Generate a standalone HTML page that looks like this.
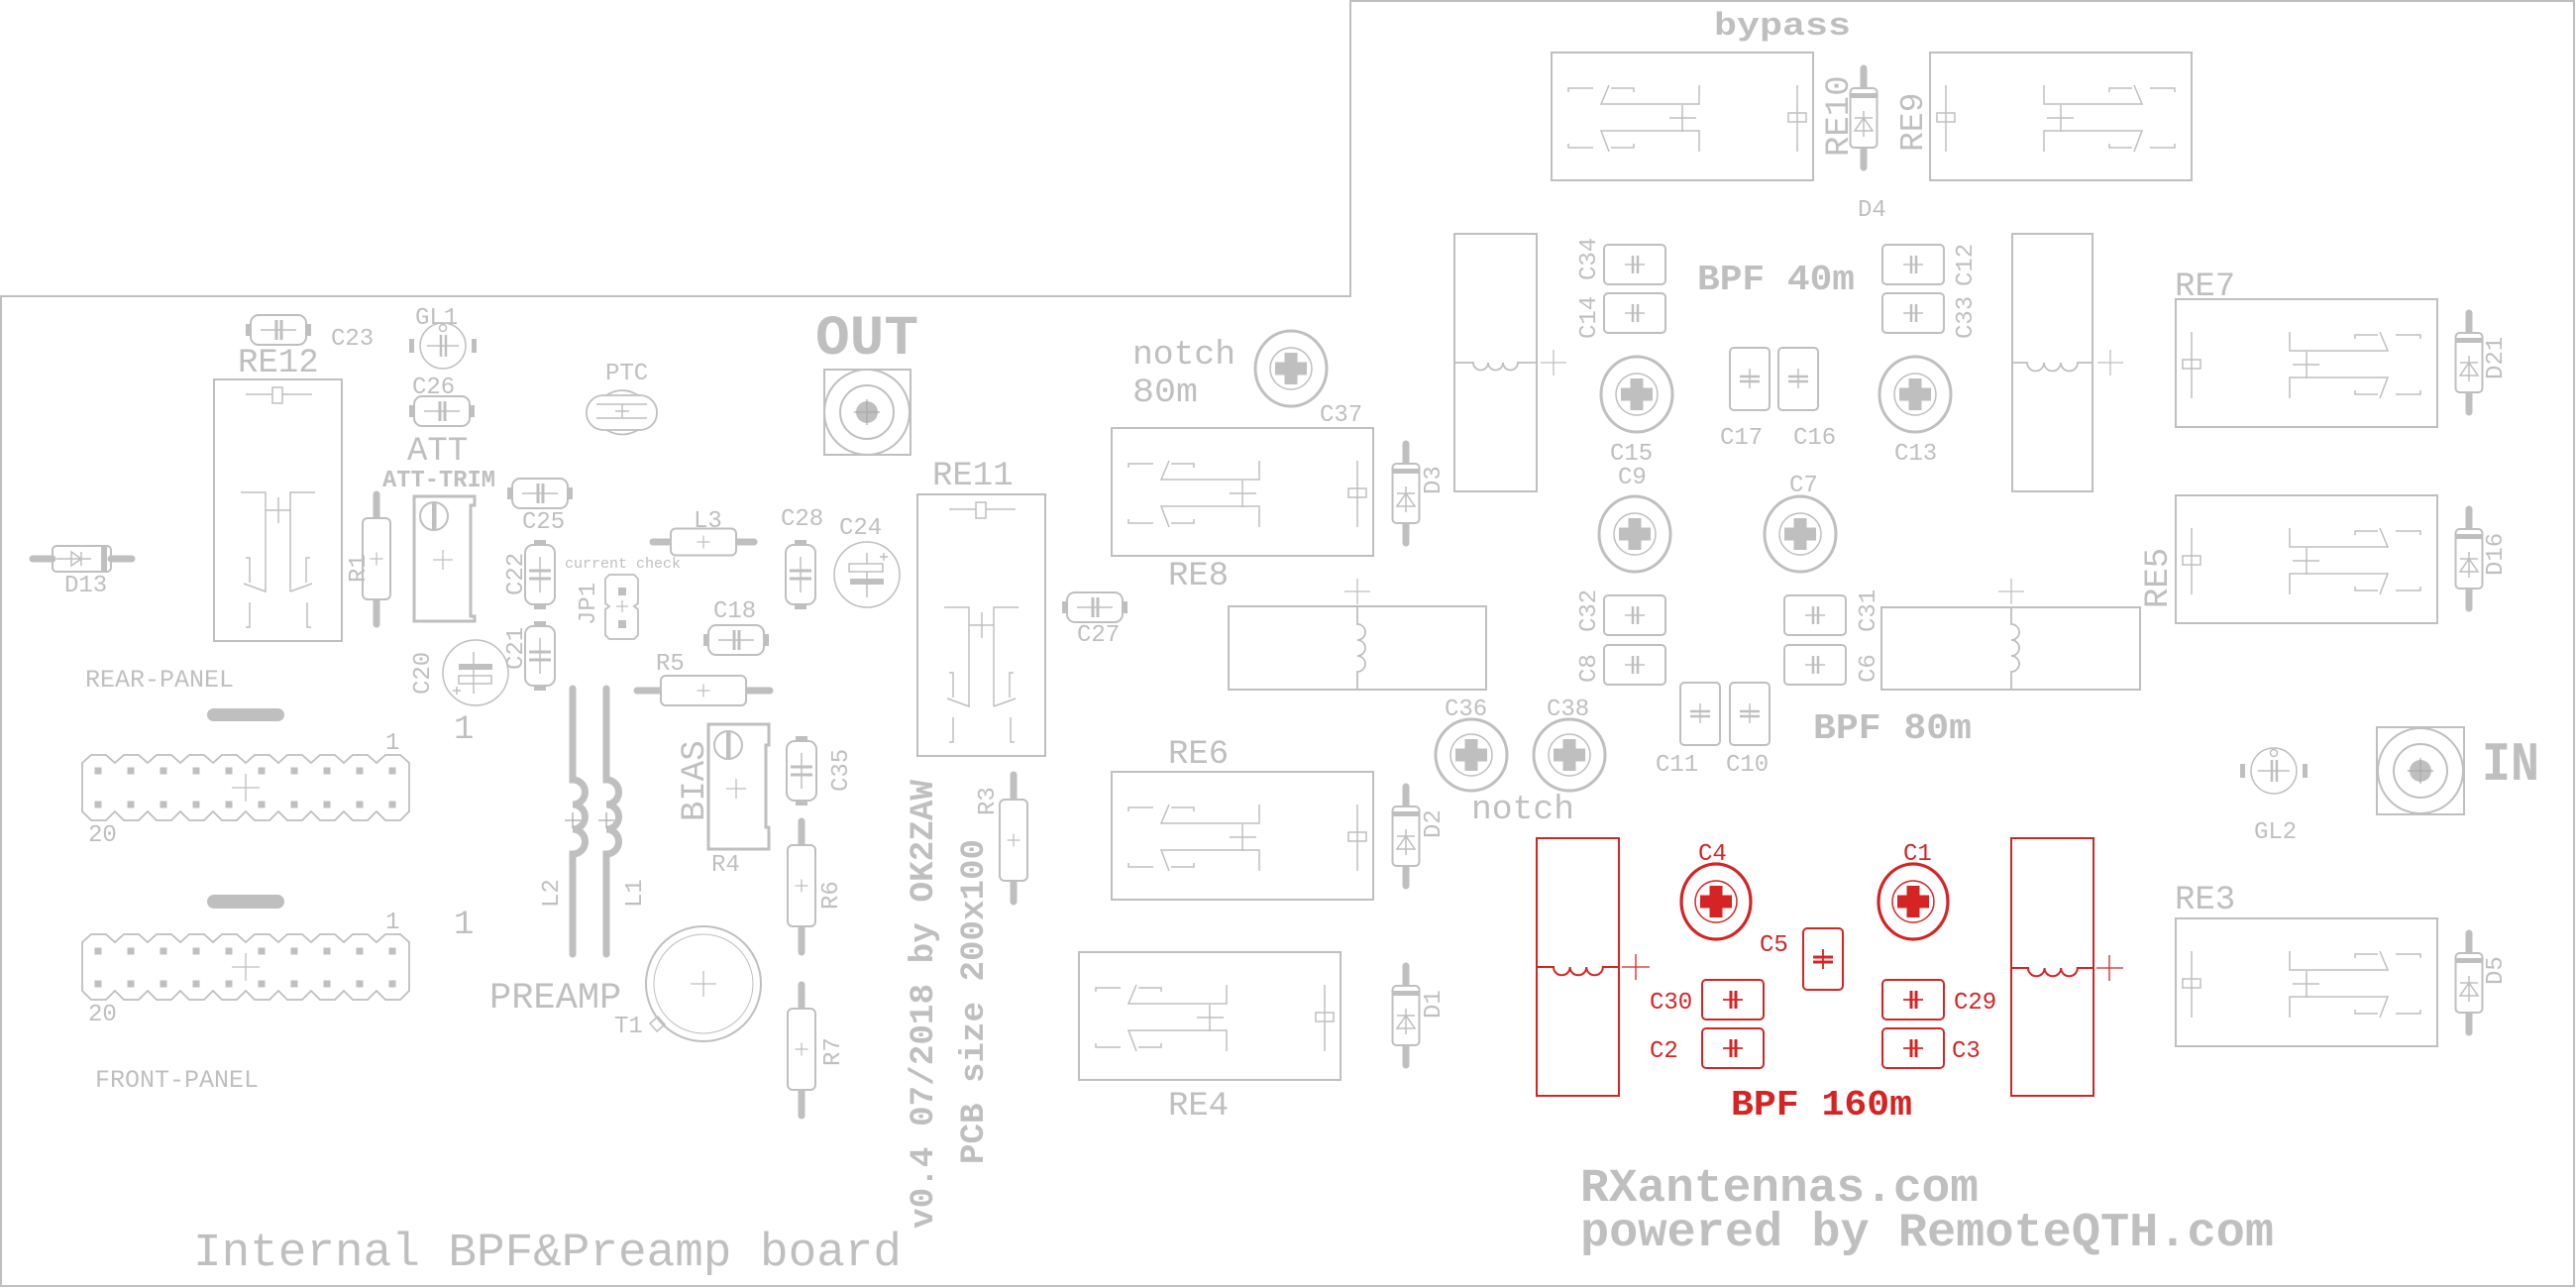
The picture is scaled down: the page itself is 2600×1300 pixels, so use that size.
<!DOCTYPE html>
<html><head><meta charset="utf-8">
<style>
html,body{margin:0;padding:0;background:#fff;}
svg{display:block;}
text{font-family:"Liberation Mono","DejaVu Sans Mono",monospace;}
</style></head><body>
<svg width="2600" height="1300" viewBox="0 0 2600 1300" xmlns="http://www.w3.org/2000/svg">
<rect width="2600" height="1300" fill="#fff"/>

<!-- ================= GRAY LAYER ================= -->
<g stroke="#bfbfbf" fill="none" stroke-width="2">
<!-- board outline -->
<path d="M1,1299V299H1363V1H2598V1298H1"/>

<!-- RE12 vertical relay -->
<g transform="translate(216,383)">
<rect width="129" height="264"/>
<path stroke-width="1.5" d="M32,15H59M69,15H99M27,114H52V214L30,206M77,214V114H102M77,214L99,206M32,180H36V205M97,180H93V205M65,119V145M52,132H77M36,225V250H32M94,225V250H98"/>
<rect x="59" y="8" width="10" height="16" stroke-width="1.5"/>
</g>
<!-- RE11 vertical relay -->
<g transform="translate(926,499)">
<rect width="129" height="264"/>
<path stroke-width="1.5" d="M32,15H59M69,15H99M27,114H52V214L30,206M77,214V114H102M77,214L99,206M32,180H36V205M97,180H93V205M65,119V145M52,132H77M36,225V250H32M94,225V250H98"/>
<rect x="59" y="8" width="10" height="16" stroke-width="1.5"/>
</g>

<!-- Left-hand horizontal relays (mirrored) -->
<g transform="translate(1386,432) scale(-1,1)">
<rect width="264" height="129"/>
<path stroke-width="1.5" d="M16,33V100M115,33V52H214L206,33M181,40V36H204M222,36H247V40M132,53V80M118,66H145M115,100V79H214L206,100M181,92V96H204M222,96H247V92"/>
<rect x="7" y="61" width="18" height="9" stroke-width="1.5"/>
</g>
<g transform="translate(1386,779) scale(-1,1)">
<rect width="264" height="129"/>
<path stroke-width="1.5" d="M16,33V100M115,33V52H214L206,33M181,40V36H204M222,36H247V40M132,53V80M118,66H145M115,100V79H214L206,100M181,92V96H204M222,96H247V92"/>
<rect x="7" y="61" width="18" height="9" stroke-width="1.5"/>
</g>
<g transform="translate(1353,961) scale(-1,1)">
<rect width="264" height="129"/>
<path stroke-width="1.5" d="M16,33V100M115,33V52H214L206,33M181,40V36H204M222,36H247V40M132,53V80M118,66H145M115,100V79H214L206,100M181,92V96H204M222,96H247V92"/>
<rect x="7" y="61" width="18" height="9" stroke-width="1.5"/>
</g>
<g transform="translate(1830,53) scale(-1,1)">
<rect width="264" height="129"/>
<path stroke-width="1.5" d="M16,33V100M115,33V52H214L206,33M181,40V36H204M222,36H247V40M132,53V80M118,66H145M115,100V79H214L206,100M181,92V96H204M222,96H247V92"/>
<rect x="7" y="61" width="18" height="9" stroke-width="1.5"/>
</g>
<!-- Right-hand horizontal relays -->
<g transform="translate(1948,53)">
<rect width="264" height="129"/>
<path stroke-width="1.5" d="M16,33V100M115,33V52H214L206,33M181,40V36H204M222,36H247V40M132,53V80M118,66H145M115,100V79H214L206,100M181,92V96H204M222,96H247V92"/>
<rect x="7" y="61" width="18" height="9" stroke-width="1.5"/>
</g>
<g transform="translate(2196,302)">
<rect width="264" height="129"/>
<path stroke-width="1.5" d="M16,33V100M115,33V52H214L206,33M181,40V36H204M222,36H247V40M132,53V80M118,66H145M115,100V79H214L206,100M181,92V96H204M222,96H247V92"/>
<rect x="7" y="61" width="18" height="9" stroke-width="1.5"/>
</g>
<g transform="translate(2196,500)">
<rect width="264" height="129"/>
<path stroke-width="1.5" d="M16,33V100M115,33V52H214L206,33M181,40V36H204M222,36H247V40M132,53V80M118,66H145M115,100V79H214L206,100M181,92V96H204M222,96H247V92"/>
<rect x="7" y="61" width="18" height="9" stroke-width="1.5"/>
</g>
<g transform="translate(2196,927)">
<rect width="264" height="129"/>
<path stroke-width="1.5" d="M16,33V100M115,33V52H214L206,33M181,40V36H204M222,36H247V40M132,53V80M118,66H145M115,100V79H214L206,100M181,92V96H204M222,96H247V92"/>
<rect x="7" y="61" width="18" height="9" stroke-width="1.5"/>
</g>

<!-- Horizontal caps (THT) -->
<g transform="translate(281,333)"><rect x="-28" y="-15" width="56" height="30" rx="8"/><rect x="-33" y="-6" width="5" height="12" fill="#bfbfbf" stroke="none"/><rect x="28" y="-6" width="5" height="12" fill="#bfbfbf" stroke="none"/><path stroke-width="1.5" d="M-18,0H18"/><path stroke-width="3" d="M-2,-10V10M3,-10V10"/></g>
<g transform="translate(446,415)"><rect x="-28" y="-15" width="56" height="30" rx="8"/><rect x="-33" y="-6" width="5" height="12" fill="#bfbfbf" stroke="none"/><rect x="28" y="-6" width="5" height="12" fill="#bfbfbf" stroke="none"/><path stroke-width="1.5" d="M-18,0H18"/><path stroke-width="3" d="M-2,-10V10M3,-10V10"/></g>
<g transform="translate(545,498)"><rect x="-28" y="-15" width="56" height="30" rx="8"/><rect x="-33" y="-6" width="5" height="12" fill="#bfbfbf" stroke="none"/><rect x="28" y="-6" width="5" height="12" fill="#bfbfbf" stroke="none"/><path stroke-width="1.5" d="M-18,0H18"/><path stroke-width="3" d="M-2,-10V10M3,-10V10"/></g>
<g transform="translate(743,646)"><rect x="-28" y="-15" width="56" height="30" rx="8"/><rect x="-33" y="-6" width="5" height="12" fill="#bfbfbf" stroke="none"/><rect x="28" y="-6" width="5" height="12" fill="#bfbfbf" stroke="none"/><path stroke-width="1.5" d="M-18,0H18"/><path stroke-width="3" d="M-2,-10V10M3,-10V10"/></g>
<g transform="translate(1105,613)"><rect x="-28" y="-15" width="56" height="30" rx="8"/><rect x="-33" y="-6" width="5" height="12" fill="#bfbfbf" stroke="none"/><rect x="28" y="-6" width="5" height="12" fill="#bfbfbf" stroke="none"/><path stroke-width="1.5" d="M-18,0H18"/><path stroke-width="3" d="M-2,-10V10M3,-10V10"/></g>
<!-- Vertical caps (THT) -->
<g transform="translate(545,580) rotate(90)"><rect x="-30" y="-15" width="60" height="30" rx="8"/><rect x="-35" y="-6" width="5" height="12" fill="#bfbfbf" stroke="none"/><rect x="30" y="-6" width="5" height="12" fill="#bfbfbf" stroke="none"/><path stroke-width="1.5" d="M-18,0H18"/><path stroke-width="3" d="M-4,-11V11M4,-11V11"/></g>
<g transform="translate(545,662) rotate(90)"><rect x="-30" y="-15" width="60" height="30" rx="8"/><rect x="-35" y="-6" width="5" height="12" fill="#bfbfbf" stroke="none"/><rect x="30" y="-6" width="5" height="12" fill="#bfbfbf" stroke="none"/><path stroke-width="1.5" d="M-18,0H18"/><path stroke-width="3" d="M-4,-11V11M4,-11V11"/></g>
<g transform="translate(808,580) rotate(90)"><rect x="-30" y="-15" width="60" height="30" rx="8"/><rect x="-35" y="-6" width="5" height="12" fill="#bfbfbf" stroke="none"/><rect x="30" y="-6" width="5" height="12" fill="#bfbfbf" stroke="none"/><path stroke-width="1.5" d="M-18,0H18"/><path stroke-width="3" d="M-4,-11V11M4,-11V11"/></g>
<g transform="translate(809,778) rotate(90)"><rect x="-30" y="-15" width="60" height="30" rx="8"/><rect x="-35" y="-6" width="5" height="12" fill="#bfbfbf" stroke="none"/><rect x="30" y="-6" width="5" height="12" fill="#bfbfbf" stroke="none"/><path stroke-width="1.5" d="M-18,0H18"/><path stroke-width="3" d="M-4,-11V11M4,-11V11"/></g>

<!-- GL1 / GL2 -->
<g transform="translate(447,349)"><circle r="23" stroke-width="1.5"/><circle cy="-18" r="3.5" stroke-width="1.5"/><rect x="-34" y="-7" width="5" height="14" fill="#bfbfbf" stroke="none"/><rect x="29" y="-7" width="5" height="14" fill="#bfbfbf" stroke="none"/><path stroke-width="1.5" d="M-16,0H16"/><path stroke-width="2.5" d="M-2,-11V11M3,-11V11"/></g>
<g transform="translate(2295,778)"><circle r="23" stroke-width="1.5"/><circle cy="-18" r="3.5" stroke-width="1.5"/><rect x="-34" y="-7" width="5" height="14" fill="#bfbfbf" stroke="none"/><rect x="29" y="-7" width="5" height="14" fill="#bfbfbf" stroke="none"/><path stroke-width="1.5" d="M-16,0H16"/><path stroke-width="2.5" d="M-2,-11V11M3,-11V11"/></g>

<!-- ATT-TRIM trimmer -->
<path stroke-width="3" d="M418,501H479V510H475V622H479V627H418Z"/>
<circle cx="438" cy="521" r="14" stroke-width="2"/>
<rect x="436" y="508" width="4.5" height="26" fill="#bfbfbf" stroke="none"/>
<path stroke-width="1.3" d="M437,565H457M447,555V575"/>
<!-- BIAS trimmer -->
<path stroke-width="3" d="M715,731H776V752H773V835H776V857H715Z"/>
<circle cx="735" cy="752" r="14" stroke-width="2"/>
<rect x="733" y="739" width="4.5" height="26" fill="#bfbfbf" stroke="none"/>
<path stroke-width="1.3" d="M733,796H753M743,786V806"/>

<!-- Resistors -->
<g stroke-linecap="round">
<g transform="translate(380,564)"><path stroke-width="7" d="M0,-65V-41M0,41V66"/><rect x="-14" y="-41" width="28" height="82" rx="5" fill="#fff"/><path stroke-width="1.3" d="M-6,0H6M0,-6V6"/></g>
<g transform="translate(809,894)"><path stroke-width="7" d="M0,-65V-41M0,41V67"/><rect x="-14" y="-41" width="28" height="82" rx="5" fill="#fff"/><path stroke-width="1.3" d="M-6,0H6M0,-6V6"/></g>
<g transform="translate(809,1059)"><path stroke-width="7" d="M0,-65V-41M0,41V67"/><rect x="-14" y="-41" width="28" height="82" rx="5" fill="#fff"/><path stroke-width="1.3" d="M-6,0H6M0,-6V6"/></g>
<g transform="translate(1023,848)"><path stroke-width="7" d="M0,-66V-41M0,41V62"/><rect x="-14" y="-41" width="28" height="82" rx="5" fill="#fff"/><path stroke-width="1.3" d="M-6,0H6M0,-6V6"/></g>
<g transform="translate(710,697)"><path stroke-width="7" d="M-67,0H-43M43,0H67"/><rect x="-43" y="-15" width="86" height="30" rx="5" fill="#fff"/><path stroke-width="1.3" d="M-6,0H6M0,-6V6"/></g>
<g transform="translate(710,547)"><path stroke-width="7" d="M-51,0H-33M33,0H51"/><rect x="-33" y="-13.5" width="66" height="27" rx="5" fill="#fff"/><path stroke-width="1.3" d="M-6,0H6M0,-6V6"/></g>
</g>

<!-- PTC -->
<rect x="592" y="399" width="71" height="35" rx="17" stroke-width="1.8"/>
<path stroke-width="1.8" d="M612,399Q628,389 644,399M612,434Q628,443 644,434"/>
<path stroke-width="1.5" d="M602,408H653M602,422H653M628,408V422M621,415H635"/>

<!-- JP1 -->
<path stroke-width="1.8" d="M615,580H640L644,584V609L640,612L644,615V641L640,645H615L611,641V615L615,612L611,609V584Z"/>
<rect x="624" y="593" width="8" height="8" fill="#bfbfbf" stroke="none"/>
<rect x="624" y="626" width="8" height="8" fill="#bfbfbf" stroke="none"/>
<path stroke-width="1.2" d="M622,612H634M628,606V618"/>

<!-- OUT connector -->
<rect x="832" y="373" width="87" height="86"/>
<circle cx="875" cy="416" r="43"/>
<circle cx="875" cy="416" r="27"/>
<circle cx="875" cy="416" r="11" fill="#bfbfbf" stroke="none"/>
<path stroke-width="1.2" stroke="#aaa" d="M862,416H888M875,403V429"/>
<!-- IN connector -->
<rect x="2399" y="734" width="88" height="88"/>
<circle cx="2443" cy="778" r="43"/>
<circle cx="2443" cy="778" r="27"/>
<circle cx="2443" cy="778" r="11" fill="#bfbfbf" stroke="none"/>
<path stroke-width="1.2" stroke="#aaa" d="M2430,778H2456M2443,765V791"/>

<!-- C24 electrolytic -->
<circle cx="875" cy="580" r="33" stroke-width="1.5"/>
<rect x="857" y="569" width="34" height="8" stroke-width="1.5"/>
<rect x="858" y="584" width="34" height="6" fill="#bfbfbf" stroke="none"/>
<path stroke-width="1.5" d="M875,558V569M875,577V603M888,562H896M892,558V566"/>
<!-- C20 electrolytic -->
<circle cx="480" cy="679" r="33" stroke-width="1.5"/>
<rect x="463" y="670" width="34" height="6" fill="#bfbfbf" stroke="none"/>
<rect x="463" y="682" width="33" height="8" stroke-width="1.5"/>
<path stroke-width="1.5" d="M478,658V670M478,676V700M457,697H465M461,693V701"/>

<!-- T1 -->
<circle cx="710" cy="993" r="58"/>
<circle cx="710" cy="993" r="50" stroke-width="1"/>
<path stroke-width="1.5" d="M656,1033L664,1026L671,1034L663,1041Z"/>
<path stroke-width="1.3" d="M697,993H723M710,980V1006"/>

<!-- L2 / L1 coils -->
<path stroke-width="7" stroke-linecap="round" d="M578,695V787a12.5,12.5 0 0 1 0,25a12.5,12.5 0 0 1 0,25a12.5,12.5 0 0 1 0,25V963"/>
<path stroke-width="7" stroke-linecap="round" d="M612,695V787a12.5,12.5 0 0 1 0,25a12.5,12.5 0 0 1 0,25a12.5,12.5 0 0 1 0,25V963"/>
<path stroke-width="1.3" stroke="#aaa" d="M570,828H586M578,820V836M604,828H620M612,820V836"/>

<!-- D13 horizontal diode -->
<path stroke-width="7" stroke-linecap="round" d="M33,564H53M112,564H133"/>
<rect x="53" y="551" width="59" height="26" rx="4"/>
<rect x="102" y="552" width="6" height="24" fill="#bfbfbf" stroke="none"/>
<path stroke-width="1.5" d="M57,564H92M82,557V571M72,557L82,564L72,571Z"/>

<!-- Vertical diodes -->
<g transform="translate(1419,498)"><path stroke-width="7" stroke-linecap="round" d="M0,-50V-30M0,30V50"/><rect x="-13.5" y="-30" width="27" height="60" rx="4" fill="#fff"/><rect x="-13" y="-25" width="26" height="5" fill="#bfbfbf" stroke="none"/><path stroke-width="1.5" d="M0,-7V19M-9,0H9M0,0L-9,13H9Z"/></g>
<g transform="translate(1419,844)"><path stroke-width="7" stroke-linecap="round" d="M0,-50V-30M0,30V50"/><rect x="-13.5" y="-30" width="27" height="60" rx="4" fill="#fff"/><rect x="-13" y="-25" width="26" height="5" fill="#bfbfbf" stroke="none"/><path stroke-width="1.5" d="M0,-7V19M-9,0H9M0,0L-9,13H9Z"/></g>
<g transform="translate(1419,1025)"><path stroke-width="7" stroke-linecap="round" d="M0,-50V-30M0,30V50"/><rect x="-13.5" y="-30" width="27" height="60" rx="4" fill="#fff"/><rect x="-13" y="-25" width="26" height="5" fill="#bfbfbf" stroke="none"/><path stroke-width="1.5" d="M0,-7V19M-9,0H9M0,0L-9,13H9Z"/></g>
<g transform="translate(1881,119)"><path stroke-width="7" stroke-linecap="round" d="M0,-50V-30M0,30V50"/><rect x="-13.5" y="-30" width="27" height="60" rx="4" fill="#fff"/><rect x="-13" y="-25" width="26" height="5" fill="#bfbfbf" stroke="none"/><path stroke-width="1.5" d="M0,-7V19M-9,0H9M0,0L-9,13H9Z"/></g>
<g transform="translate(2492,366)"><path stroke-width="7" stroke-linecap="round" d="M0,-50V-30M0,30V50"/><rect x="-13.5" y="-30" width="27" height="60" rx="4" fill="#fff"/><rect x="-13" y="-25" width="26" height="5" fill="#bfbfbf" stroke="none"/><path stroke-width="1.5" d="M0,-7V19M-9,0H9M0,0L-9,13H9Z"/></g>
<g transform="translate(2492,564)"><path stroke-width="7" stroke-linecap="round" d="M0,-50V-30M0,30V50"/><rect x="-13.5" y="-30" width="27" height="60" rx="4" fill="#fff"/><rect x="-13" y="-25" width="26" height="5" fill="#bfbfbf" stroke="none"/><path stroke-width="1.5" d="M0,-7V19M-9,0H9M0,0L-9,13H9Z"/></g>
<g transform="translate(2492,992)"><path stroke-width="7" stroke-linecap="round" d="M0,-50V-30M0,30V50"/><rect x="-13.5" y="-30" width="27" height="60" rx="4" fill="#fff"/><rect x="-13" y="-25" width="26" height="5" fill="#bfbfbf" stroke="none"/><path stroke-width="1.5" d="M0,-7V19M-9,0H9M0,0L-9,13H9Z"/></g>

<!-- Trimmer caps gray -->
<g transform="translate(1303,372)"><ellipse rx="36" ry="38" stroke-width="3"/><circle r="21" stroke-width="1.5"/><path fill="#bfbfbf" stroke="none" d="M-16,-6.5H-6.5V-16H6.5V-6.5H16V6.5H6.5V16H-6.5V6.5H-16Z"/></g>
<g transform="translate(1652,398)"><ellipse rx="36" ry="38" stroke-width="3"/><circle r="21" stroke-width="1.5"/><path fill="#bfbfbf" stroke="none" d="M-16,-6.5H-6.5V-16H6.5V-6.5H16V6.5H6.5V16H-6.5V6.5H-16Z"/></g>
<g transform="translate(1933,398)"><ellipse rx="36" ry="38" stroke-width="3"/><circle r="21" stroke-width="1.5"/><path fill="#bfbfbf" stroke="none" d="M-16,-6.5H-6.5V-16H6.5V-6.5H16V6.5H6.5V16H-6.5V6.5H-16Z"/></g>
<g transform="translate(1650,539)"><ellipse rx="36" ry="38" stroke-width="3"/><circle r="21" stroke-width="1.5"/><path fill="#bfbfbf" stroke="none" d="M-16,-6.5H-6.5V-16H6.5V-6.5H16V6.5H6.5V16H-6.5V6.5H-16Z"/></g>
<g transform="translate(1817,539)"><ellipse rx="36" ry="38" stroke-width="3"/><circle r="21" stroke-width="1.5"/><path fill="#bfbfbf" stroke="none" d="M-16,-6.5H-6.5V-16H6.5V-6.5H16V6.5H6.5V16H-6.5V6.5H-16Z"/></g>
<g transform="translate(1485,762)"><ellipse rx="36" ry="36" stroke-width="3"/><circle r="21" stroke-width="1.5"/><path fill="#bfbfbf" stroke="none" d="M-16,-6.5H-6.5V-16H6.5V-6.5H16V6.5H6.5V16H-6.5V6.5H-16Z"/></g>
<g transform="translate(1584,762)"><ellipse rx="36" ry="36" stroke-width="3"/><circle r="21" stroke-width="1.5"/><path fill="#bfbfbf" stroke="none" d="M-16,-6.5H-6.5V-16H6.5V-6.5H16V6.5H6.5V16H-6.5V6.5H-16Z"/></g>

<!-- SMD caps horizontal -->
<g transform="translate(1650,267)"><rect x="-31" y="-20" width="62" height="40" rx="4"/><path stroke-width="1.5" d="M-10,0H10"/><path stroke-width="2.5" d="M-2,-9V9M3,-9V9"/></g>
<g transform="translate(1650,316)"><rect x="-31" y="-20" width="62" height="40" rx="4"/><path stroke-width="1.5" d="M-10,0H10"/><path stroke-width="2.5" d="M-2,-9V9M3,-9V9"/></g>
<g transform="translate(1931,267)"><rect x="-31" y="-20" width="62" height="40" rx="4"/><path stroke-width="1.5" d="M-10,0H10"/><path stroke-width="2.5" d="M-2,-9V9M3,-9V9"/></g>
<g transform="translate(1931,316)"><rect x="-31" y="-20" width="62" height="40" rx="4"/><path stroke-width="1.5" d="M-10,0H10"/><path stroke-width="2.5" d="M-2,-9V9M3,-9V9"/></g>
<g transform="translate(1650,621)"><rect x="-31" y="-20" width="62" height="40" rx="4"/><path stroke-width="1.5" d="M-10,0H10"/><path stroke-width="2.5" d="M-2,-9V9M3,-9V9"/></g>
<g transform="translate(1650,671)"><rect x="-31" y="-20" width="62" height="40" rx="4"/><path stroke-width="1.5" d="M-10,0H10"/><path stroke-width="2.5" d="M-2,-9V9M3,-9V9"/></g>
<g transform="translate(1832,621)"><rect x="-31" y="-20" width="62" height="40" rx="4"/><path stroke-width="1.5" d="M-10,0H10"/><path stroke-width="2.5" d="M-2,-9V9M3,-9V9"/></g>
<g transform="translate(1832,671)"><rect x="-31" y="-20" width="62" height="40" rx="4"/><path stroke-width="1.5" d="M-10,0H10"/><path stroke-width="2.5" d="M-2,-9V9M3,-9V9"/></g>
<!-- SMD caps vertical -->
<g transform="translate(1766,382)"><rect x="-20" y="-31" width="40" height="63" rx="4"/><path stroke-width="1.5" d="M0,-10V10"/><path stroke-width="2.5" d="M-10,-2H10M-10,3H10"/></g>
<g transform="translate(1815,382)"><rect x="-20" y="-31" width="40" height="63" rx="4"/><path stroke-width="1.5" d="M0,-10V10"/><path stroke-width="2.5" d="M-10,-2H10M-10,3H10"/></g>
<g transform="translate(1716,720)"><rect x="-20" y="-31" width="40" height="63" rx="4"/><path stroke-width="1.5" d="M0,-10V10"/><path stroke-width="2.5" d="M-10,-2H10M-10,3H10"/></g>
<g transform="translate(1766,720)"><rect x="-20" y="-31" width="40" height="63" rx="4"/><path stroke-width="1.5" d="M0,-10V10"/><path stroke-width="2.5" d="M-10,-2H10M-10,3H10"/></g>

<!-- Inductor boxes 40m -->
<rect x="1468" y="236" width="83" height="260"/>
<path stroke-width="1.8" d="M1468,366H1487a7.5,7.5 0 0 0 15,0a7.5,7.5 0 0 0 15,0a7.5,7.5 0 0 0 15,0H1551"/>
<path stroke-width="1.3" d="M1555,366H1581M1568,353V379"/>
<rect x="2031" y="236" width="81" height="260"/>
<path stroke-width="1.8" d="M2031,366H2046a8.5,8.5 0 0 0 17,0a8.5,8.5 0 0 0 17,0a8.5,8.5 0 0 0 17,0H2112"/>
<path stroke-width="1.3" d="M2117,366H2143M2130,353V379"/>
<!-- Inductor boxes 80m -->
<rect x="1240" y="612" width="260" height="84"/>
<path stroke-width="1.8" d="M1370,612V630a8,8 0 0 1 0,16a8,8 0 0 1 0,16a8,8 0 0 1 0,16V696"/>
<path stroke-width="1.3" d="M1357,597H1383M1370,584V610"/>
<rect x="1899" y="613" width="261" height="83"/>
<path stroke-width="1.8" d="M2030,613V630a8,8 0 0 1 0,16a8,8 0 0 1 0,16a8,8 0 0 1 0,16V696"/>
<path stroke-width="1.3" d="M2017,597H2043M2030,584V610"/>

<!-- Headers -->
<path stroke-width="1.8" d="M83,770L92,762H107L116,770L125,762H140L149,770L158,762H173L182,770L191,762H206L215,770L224,762H239L248,770L257,762H272L281,770L290,762H305L314,770L323,762H338L347,770L356,762H371L380,770L389,762H404L413,770V819L404,828H389L380,819L371,828H356L347,819L338,828H323L314,819L305,828H290L281,819L272,828H257L248,819L239,828H224L215,819L206,828H191L182,819L173,828H158L149,819L140,828H125L116,819L107,828H92L83,819Z"/>
<path stroke-width="1.8" d="M83,951L92,943H107L116,951L125,943H140L149,951L158,943H173L182,951L191,943H206L215,951L224,943H239L248,951L257,943H272L281,951L290,943H305L314,951L323,943H338L347,951L356,943H371L380,951L389,943H404L413,951V1000L404,1009H389L380,1000L371,1009H356L347,1000L338,1009H323L314,1000L305,1009H290L281,1000L272,1009H257L248,1000L239,1009H224L215,1000L206,1009H191L182,1000L173,1009H158L149,1000L140,1009H125L116,1000L107,1009H92L83,1000Z"/>
<path stroke-width="1.3" d="M234,795H262M248,781V809M234,976H262M248,962V990"/>
<g fill="#bfbfbf" stroke="none">
<path d="M95.5,774.5h7v7h-7zM128.5,774.5h7v7h-7zM161.5,774.5h7v7h-7zM194.5,774.5h7v7h-7zM227.5,774.5h7v7h-7zM260.5,774.5h7v7h-7zM293.5,774.5h7v7h-7zM326.5,774.5h7v7h-7zM359.5,774.5h7v7h-7zM392.5,774.5h7v7h-7z"/>
<path d="M95.5,808.5h7v7h-7zM128.5,808.5h7v7h-7zM161.5,808.5h7v7h-7zM194.5,808.5h7v7h-7zM227.5,808.5h7v7h-7zM260.5,808.5h7v7h-7zM293.5,808.5h7v7h-7zM326.5,808.5h7v7h-7zM359.5,808.5h7v7h-7zM392.5,808.5h7v7h-7z"/>
<path d="M95.5,956.5h7v7h-7zM128.5,956.5h7v7h-7zM161.5,956.5h7v7h-7zM194.5,956.5h7v7h-7zM227.5,956.5h7v7h-7zM260.5,956.5h7v7h-7zM293.5,956.5h7v7h-7zM326.5,956.5h7v7h-7zM359.5,956.5h7v7h-7zM392.5,956.5h7v7h-7z"/>
<path d="M95.5,989.5h7v7h-7zM128.5,989.5h7v7h-7zM161.5,989.5h7v7h-7zM194.5,989.5h7v7h-7zM227.5,989.5h7v7h-7zM260.5,989.5h7v7h-7zM293.5,989.5h7v7h-7zM326.5,989.5h7v7h-7zM359.5,989.5h7v7h-7zM392.5,989.5h7v7h-7z"/>
<rect x="209" y="715" width="78" height="13" rx="6.5"/>
<rect x="209" y="903" width="78" height="14" rx="7"/>
</g>
</g>

<!-- ================= RED LAYER ================= -->
<g stroke="#d42424" fill="none" stroke-width="2">
<rect x="1551" y="846" width="83" height="260"/>
<path stroke-width="2" d="M1551,976H1568a8.3,8.3 0 0 0 16.6,0a8.3,8.3 0 0 0 16.6,0a8.3,8.3 0 0 0 16.6,0H1634"/>
<path stroke-width="1.3" d="M1637,976H1665M1651,963V989"/>
<rect x="2030" y="846" width="83" height="260"/>
<path stroke-width="2" d="M2030,977H2047a8.3,8.3 0 0 0 16.6,0a8.3,8.3 0 0 0 16.6,0a8.3,8.3 0 0 0 16.6,0H2113"/>
<path stroke-width="1.3" d="M2116,977H2143M2129,964V990"/>
<g transform="translate(1732,910)"><ellipse rx="35" ry="38" stroke-width="3.2"/><circle r="21" stroke-width="1.5"/><path fill="#d42424" stroke="none" d="M-16,-6.5H-6.5V-16H6.5V-6.5H16V6.5H6.5V16H-6.5V6.5H-16Z"/></g>
<g transform="translate(1931,910)"><ellipse rx="35" ry="38" stroke-width="3.2"/><circle r="21" stroke-width="1.5"/><path fill="#d42424" stroke="none" d="M-16,-6.5H-6.5V-16H6.5V-6.5H16V6.5H6.5V16H-6.5V6.5H-16Z"/></g>
<g transform="translate(1749,1009)"><rect x="-31" y="-20" width="62" height="40" rx="4"/><path stroke-width="1.8" d="M-10,0H10"/><path stroke-width="3" d="M-2,-9V9M3,-9V9"/></g>
<g transform="translate(1749,1058)"><rect x="-31" y="-20" width="62" height="40" rx="4"/><path stroke-width="1.8" d="M-10,0H10"/><path stroke-width="3" d="M-2,-9V9M3,-9V9"/></g>
<g transform="translate(1931,1009)"><rect x="-31" y="-20" width="62" height="40" rx="4"/><path stroke-width="1.8" d="M-10,0H10"/><path stroke-width="3" d="M-2,-9V9M3,-9V9"/></g>
<g transform="translate(1931,1058)"><rect x="-31" y="-20" width="62" height="40" rx="4"/><path stroke-width="1.8" d="M-10,0H10"/><path stroke-width="3" d="M-2,-9V9M3,-9V9"/></g>
<g transform="translate(1840,968)"><rect x="-20" y="-31" width="40" height="62" rx="4"/><path stroke-width="1.8" d="M0,-10V10"/><path stroke-width="3" d="M-10,-2H10M-10,3H10"/></g>
</g>

<!-- ================= GRAY TEXT ================= -->
<g fill="#bfbfbf" font-size="24">
<text x="334" y="348">C23</text>
<text x="240" y="375" font-size="34">RE12</text>
<text x="419" y="327">GL1</text>
<text x="416" y="397">C26</text>
<text x="411" y="464" font-size="34">ATT</text>
<text x="386" y="491" font-weight="bold" textLength="114" lengthAdjust="spacingAndGlyphs">ATT-TRIM</text>
<text x="611" y="383">PTC</text>
<text x="527" y="533">C25</text>
<text x="700" y="532">L3</text>
<text x="788" y="530">C28</text>
<text x="847" y="539">C24</text>
<text x="570" y="573" font-size="15">current check</text>
<text x="720" y="623">C18</text>
<text x="662" y="676">R5</text>
<text x="718" y="879">R4</text>
<text x="620" y="1042">T1</text>
<text x="494" y="1017" font-size="37">PREAMP</text>
<text x="65" y="597">D13</text>
<text x="86" y="693" font-size="25">REAR-PANEL</text>
<text x="96" y="1097" font-size="25">FRONT-PANEL</text>
<text x="389" y="756">1</text>
<text x="389" y="937">1</text>
<text x="89" y="849">20</text>
<text x="89" y="1030">20</text>
<text x="458" y="745" font-size="34">1</text>
<text x="458" y="942" font-size="34">1</text>
<text x="823" y="357" font-size="57" font-weight="bold" textLength="104" lengthAdjust="spacingAndGlyphs">OUT</text>
<text x="941" y="489" font-size="34">RE11</text>
<text x="1143" y="367" font-size="34" textLength="104" lengthAdjust="spacingAndGlyphs">notch</text>
<text x="1143" y="405" font-size="34" textLength="66" lengthAdjust="spacingAndGlyphs">80m</text>
<text x="1332" y="425">C37</text>
<text x="1087" y="647">C27</text>
<text x="1179" y="590" font-size="34">RE8</text>
<text x="1179" y="770" font-size="34">RE6</text>
<text x="1179" y="1125" font-size="34">RE4</text>
<text x="1458" y="722">C36</text>
<text x="1561" y="722">C38</text>
<text x="1485" y="826" font-size="34" textLength="104" lengthAdjust="spacingAndGlyphs">notch</text>
<text x="1730" y="35" font-size="32" font-weight="bold" textLength="138" lengthAdjust="spacingAndGlyphs">bypass</text>
<text x="1875" y="218">D4</text>
<text x="1713" y="292" font-size="36" font-weight="bold" textLength="159" lengthAdjust="spacingAndGlyphs">BPF 40m</text>
<text x="1625" y="464">C15</text>
<text x="1912" y="464">C13</text>
<text x="1736" y="448">C17</text>
<text x="1810" y="448">C16</text>
<text x="1633" y="488">C9</text>
<text x="1806" y="496">C7</text>
<text x="1671" y="778">C11</text>
<text x="1742" y="778">C10</text>
<text x="1830" y="745" font-size="36" font-weight="bold" textLength="160" lengthAdjust="spacingAndGlyphs">BPF 80m</text>
<text x="2195" y="298" font-size="34">RE7</text>
<text x="2195" y="917" font-size="34">RE3</text>
<text x="2275" y="846">GL2</text>
<text x="2505" y="787" font-size="56" font-weight="bold" textLength="58" lengthAdjust="spacingAndGlyphs">IN</text>
<text x="1595" y="1212" font-size="47" font-weight="bold" textLength="402" lengthAdjust="spacingAndGlyphs">RXantennas.com</text>
<text x="1595" y="1257" font-size="48" font-weight="bold" textLength="700" lengthAdjust="spacingAndGlyphs">powered by RemoteQTH.com</text>
<text x="195" y="1277" font-size="47" textLength="715" lengthAdjust="spacingAndGlyphs">Internal BPF&amp;Preamp board</text>

<!-- rotated labels -->
<text transform="translate(368,588) rotate(-90)">R1</text>
<text transform="translate(527,601) rotate(-90)">C22</text>
<text transform="translate(527,676) rotate(-90)">C21</text>
<text transform="translate(433,701) rotate(-90)">C20</text>
<text transform="translate(600,631) rotate(-90)">JP1</text>
<text transform="translate(563,916) rotate(-90)">L2</text>
<text transform="translate(647,916) rotate(-90)">L1</text>
<text transform="translate(710,829) rotate(-90)" font-size="34">BIAS</text>
<text transform="translate(855,799) rotate(-90)">C35</text>
<text transform="translate(845,918) rotate(-90)">R6</text>
<text transform="translate(847,1076) rotate(-90)">R7</text>
<text transform="translate(1003,823) rotate(-90)">R3</text>
<text transform="translate(941,1240) rotate(-90)" font-size="34" font-weight="bold" textLength="453" lengthAdjust="spacingAndGlyphs">v0.4 07/2018 by OK2ZAW</text>
<text transform="translate(992,1175) rotate(-90)" font-size="34" font-weight="bold" textLength="328" lengthAdjust="spacingAndGlyphs">PCB size 200x100</text>
<text transform="translate(1453,499) rotate(-90)">D3</text>
<text transform="translate(1453,846) rotate(-90)">D2</text>
<text transform="translate(1453,1028) rotate(-90)">D1</text>
<text transform="translate(1865,158) rotate(-90)" font-size="34">RE10</text>
<text transform="translate(1940,153) rotate(-90)" font-size="33">RE9</text>
<text transform="translate(1610,283) rotate(-90)">C34</text>
<text transform="translate(1610,342) rotate(-90)">C14</text>
<text transform="translate(1990,289) rotate(-90)">C12</text>
<text transform="translate(1990,342) rotate(-90)">C33</text>
<text transform="translate(1610,638) rotate(-90)">C32</text>
<text transform="translate(1610,689) rotate(-90)">C8</text>
<text transform="translate(1892,638) rotate(-90)">C31</text>
<text transform="translate(1892,689) rotate(-90)">C6</text>
<text transform="translate(2525,383) rotate(-90)">D21</text>
<text transform="translate(2525,581) rotate(-90)">D16</text>
<text transform="translate(2525,994) rotate(-90)">D5</text>
<text transform="translate(2187,614) rotate(-90)" font-size="34">RE5</text>
</g>

<!-- ================= RED TEXT ================= -->
<g fill="#d42424" font-size="24">
<text x="1714" y="868">C4</text>
<text x="1921" y="868">C1</text>
<text x="1776" y="960">C5</text>
<text x="1665" y="1018">C30</text>
<text x="1665" y="1067">C2</text>
<text x="1972" y="1018">C29</text>
<text x="1970" y="1067">C3</text>
<text x="1747" y="1125" font-size="36" font-weight="bold" textLength="183" lengthAdjust="spacingAndGlyphs">BPF 160m</text>
</g>
</svg>
</body></html>
